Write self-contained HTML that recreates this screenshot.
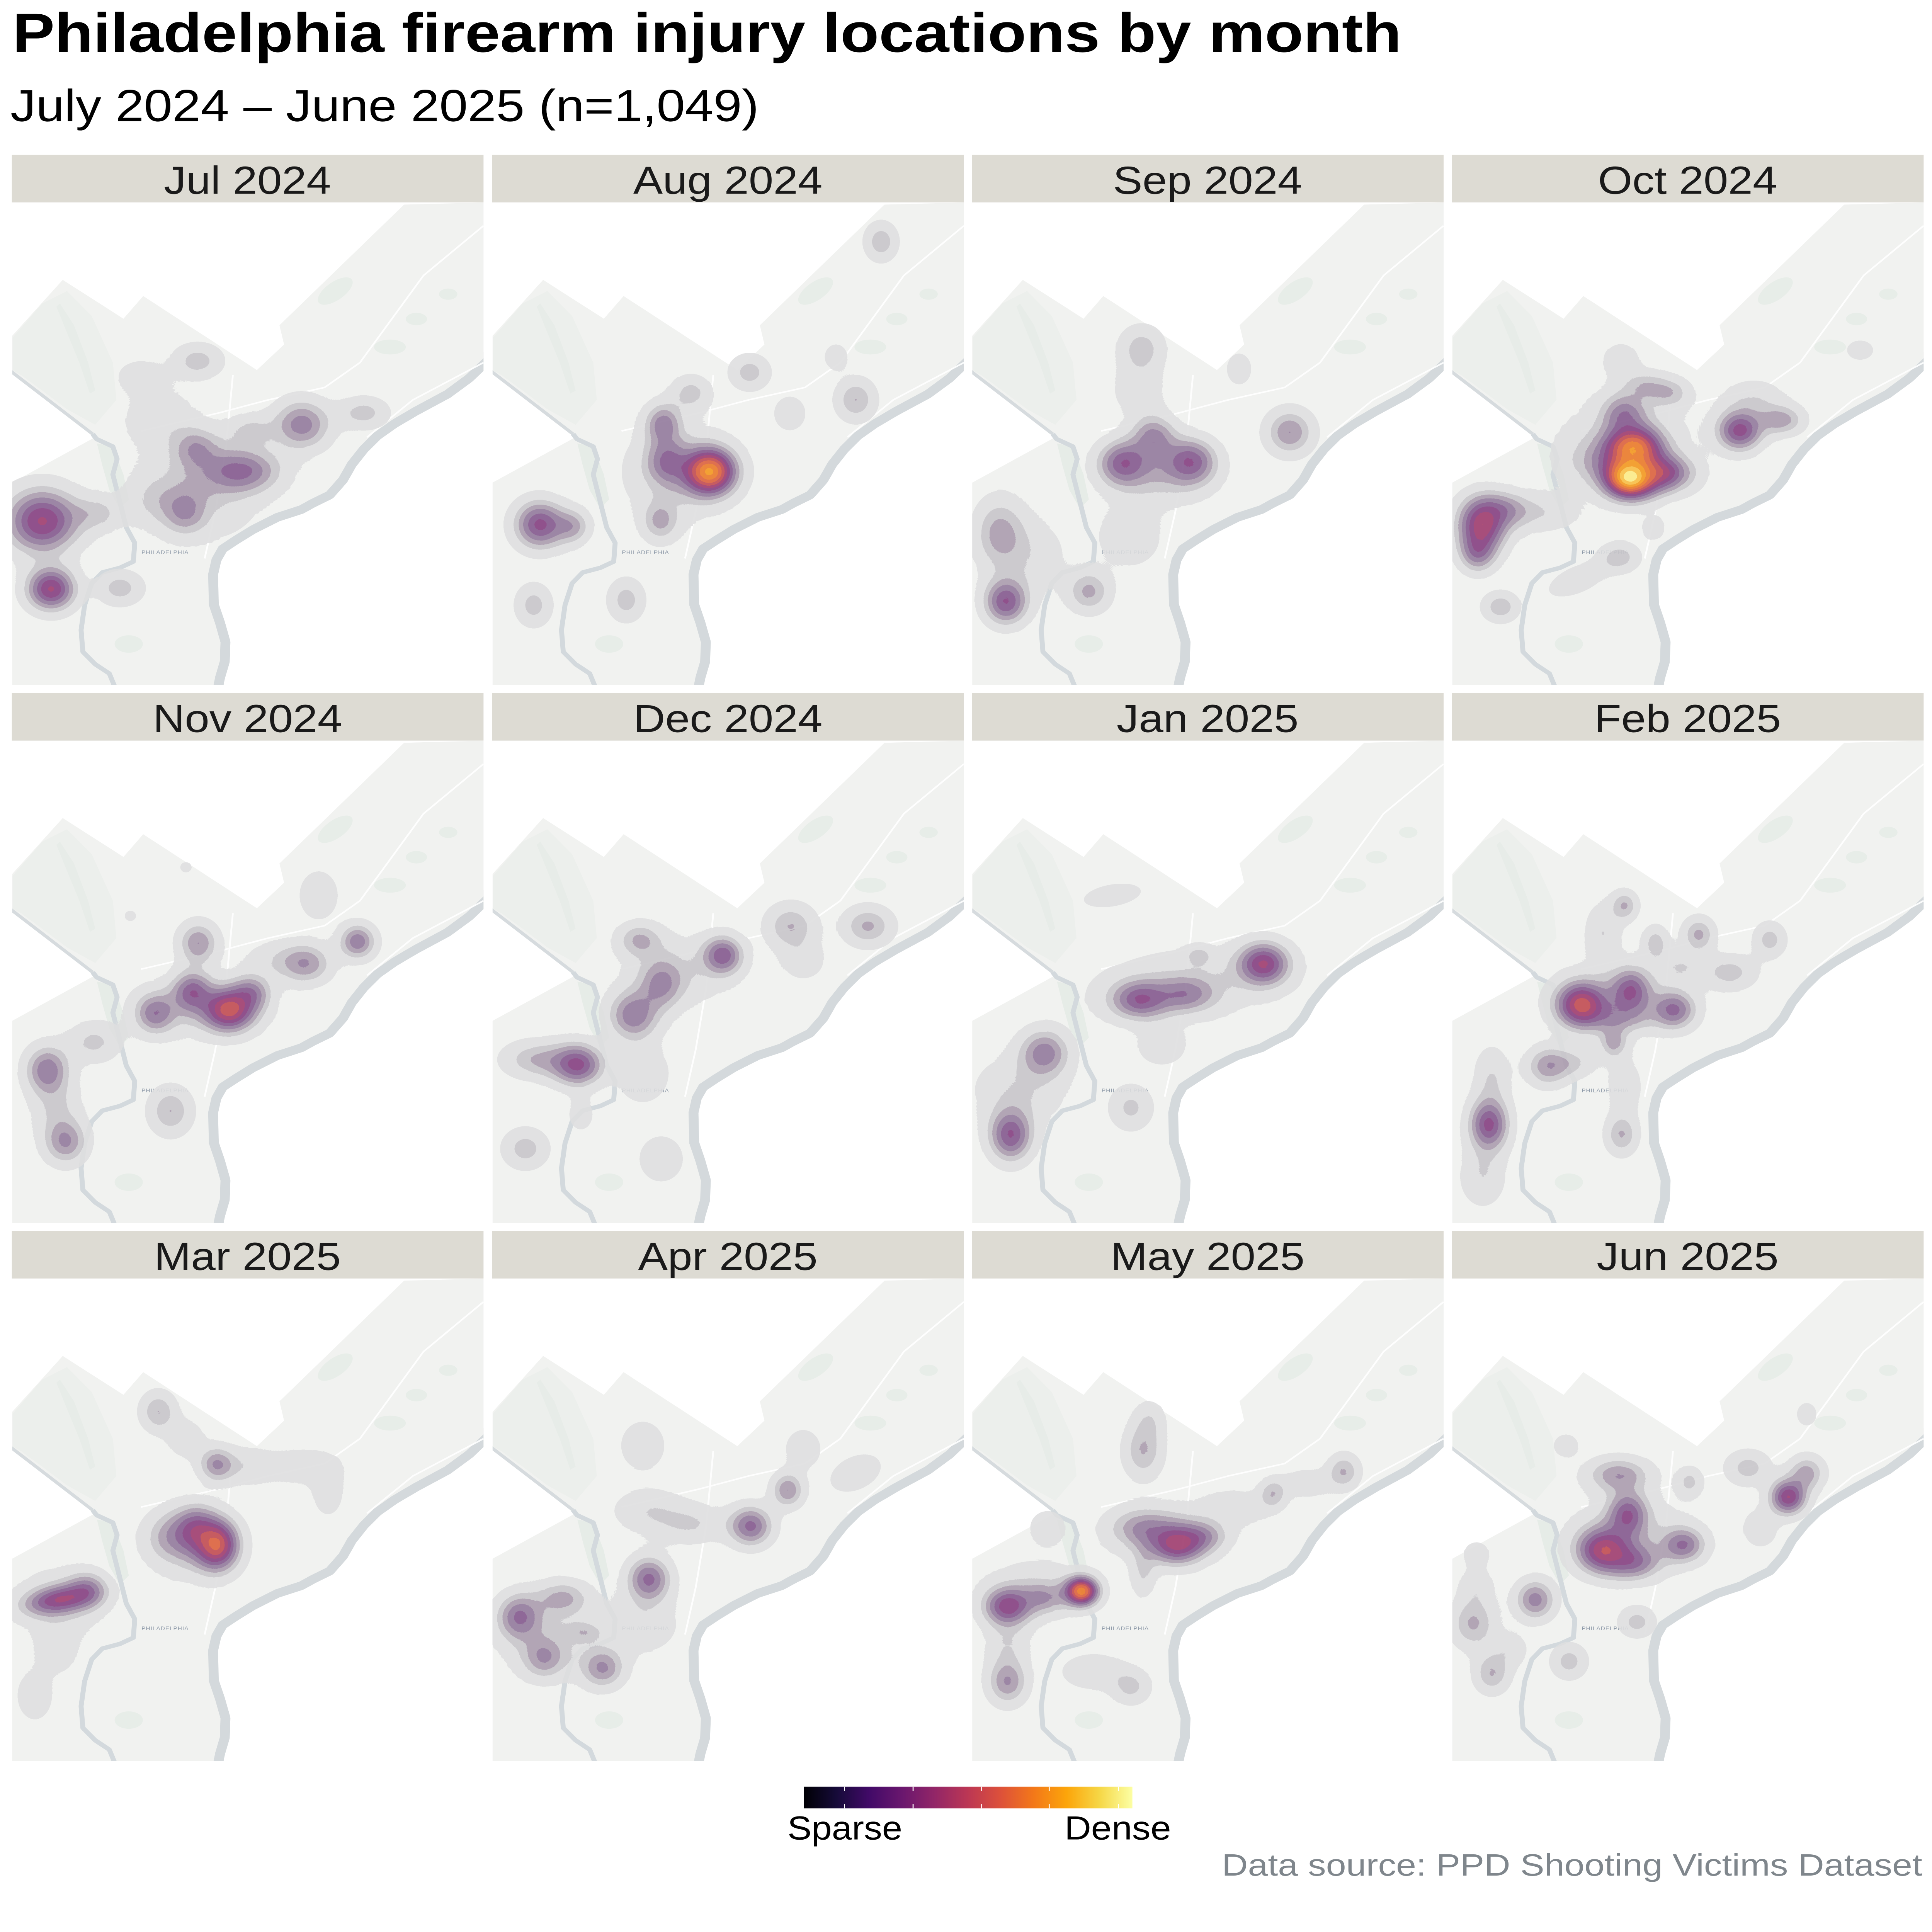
<!DOCTYPE html>
<html><head><meta charset="utf-8"><style>
html,body{margin:0;padding:0;background:#fff;width:100%;height:100%;overflow:hidden}
svg{display:block;width:100vw;height:100vh}
</style></head><body>
<svg xmlns="http://www.w3.org/2000/svg" viewBox="0 0 5550 6300" preserveAspectRatio="none">
<defs>
<radialGradient id="g">
<stop offset="0" stop-color="#000" stop-opacity="1"/>
<stop offset=".1" stop-color="#000" stop-opacity=".956"/>
<stop offset=".2" stop-color="#000" stop-opacity=".835"/>
<stop offset=".3" stop-color="#000" stop-opacity=".667"/>
<stop offset=".4" stop-color="#000" stop-opacity=".487"/>
<stop offset=".5" stop-color="#000" stop-opacity=".325"/>
<stop offset=".6" stop-color="#000" stop-opacity=".198"/>
<stop offset=".7" stop-color="#000" stop-opacity=".11"/>
<stop offset=".8" stop-color="#000" stop-opacity=".056"/>
<stop offset=".9" stop-color="#000" stop-opacity=".026"/>
<stop offset="1" stop-color="#000" stop-opacity="0"/>
</radialGradient>
<filter id="q" x="-10%" y="-10%" width="120%" height="120%" color-interpolation-filters="sRGB">
<feColorMatrix in="SourceGraphic" type="matrix" values="0 0 0 1 0  0 0 0 1 0  0 0 0 1 0  0 0 0 0 1" result="d"/>
<feComponentTransfer in="d" result="c">
<feFuncR type="discrete" tableValues="0 0 .871 .871 .871 .871 .784 .784 .784 .667 .667 .667 .573 .573 .573 .514 .514 .514 .518 .518 .518 .620 .620 .620 .761 .761 .761 .863 .863 .863 .918 .918 .918 .953 .953 .953 .973 .973 .973 .992 .992 .992"/>
<feFuncG type="discrete" tableValues="0 0 .871 .871 .871 .871 .776 .776 .776 .612 .612 .612 .478 .478 .478 .349 .349 .349 .247 .247 .247 .235 .235 .235 .306 .306 .306 .396 .396 .396 .490 .490 .490 .604 .604 .604 .753 .753 .753 .922 .922 .922"/>
<feFuncB type="discrete" tableValues="0 0 .878 .878 .878 .878 .796 .796 .796 .686 .686 .686 .612 .612 .612 .553 .553 .553 .502 .502 .502 .431 .431 .431 .333 .333 .333 .251 .251 .251 .180 .180 .180 .141 .141 .141 .290 .290 .290 .541 .541 .541"/>
</feComponentTransfer>
<feComponentTransfer in="SourceAlpha" result="a">
<feFuncA type="discrete" tableValues="0 0 .88 .88 .88 .88 .9 .9 .9 .9 .9 .9 .9 .9 .9 .9 .9 .9 .9 .9 .9 .9 .9 .9 .92 .92 .92 .92 .92 .92 .92 .92 .92 .92 .92 .92 .92 .92 .92 .92 .92 .92"/>
</feComponentTransfer>
<feComposite in="c" in2="a" operator="in"/>
</filter>
<linearGradient id="inf" x1="0" x2="1" y1="0" y2="0">
<stop offset="0" stop-color="#000004"/>
<stop offset=".1" stop-color="#160b39"/>
<stop offset=".2" stop-color="#420a68"/>
<stop offset=".3" stop-color="#6a176e"/>
<stop offset=".4" stop-color="#932667"/>
<stop offset=".5" stop-color="#bc3754"/>
<stop offset=".6" stop-color="#dd513a"/>
<stop offset=".7" stop-color="#f37819"/>
<stop offset=".8" stop-color="#fca50a"/>
<stop offset=".9" stop-color="#f6d746"/>
<stop offset="1" stop-color="#fcffa4"/>
</linearGradient>
<g id="base">
<path d="M1360,495 L1300,560 L1240,610 L1150,665 L1090,705 L1040,745 L1000,790 L965,840 L940,890 L905,935 L860,960 L828,980 L760,1005 L690,1045 L640,1080 L600,1110 L580,1150 L570,1200 L572,1300 L590,1360 L605,1420 L603,1480 L590,1530 L582,1575" fill="none" stroke="#d4d9dc" stroke-width="56" stroke-linejoin="round"/>
<path d="M10,440 L158,254 L330,379 L386,306 L708,544 L785,462 L772,400 L1125,12 L1360,5 L1360,495 L1300,560 L1240,610 L1150,665 L1090,705 L1040,745 L1000,790 L965,840 L940,890 L905,935 L860,960 L828,980 L760,1005 L690,1045 L640,1080 L600,1110 L580,1150 L570,1200 L572,1300 L590,1360 L605,1420 L603,1480 L590,1530 L582,1575 L10,1575 L10,909 L248,761 L243,750 L10,547 Z" fill="#f1f2f0"/>
<path d="M16,440 L100,330 L170,290 L240,370 L300,520 L310,640 L250,720 L170,670 L100,610 L40,560 L16,545 Z" fill="#e6ece7" opacity=".45"/>
<path d="M150,330 L190,400 L230,520 L250,610 L235,620 L205,520 L165,410 L140,340 Z" fill="#e2e9e3" opacity=".4"/>
<path d="M255,780 L300,790 L330,880 L345,960 L320,990 L290,930 L270,850 Z" fill="#e4eae5" opacity=".8"/>
<ellipse cx="930" cy="290" rx="60" ry="28" transform="rotate(-40 930 290)" fill="#e7ede8"/>
<ellipse cx="1085" cy="470" rx="45" ry="24" fill="#e7ede8"/>
<ellipse cx="1160" cy="380" rx="30" ry="20" fill="#e7ede8"/>
<ellipse cx="1250" cy="300" rx="26" ry="18" fill="#e7ede8"/>
<ellipse cx="345" cy="1425" rx="40" ry="28" fill="#e7ede8"/>
<path d="M10,547 L243,750" stroke="#d6dbde" stroke-width="10" fill="none"/>
<path d="M243,750 L254,766 L300,790 L312,830 L300,880 L318,960 L338,1050 L362,1100 L358,1160 L320,1180 L270,1195 L240,1230 L220,1300 L210,1380 L215,1450 L250,1490 L290,1520 L310,1575" stroke="#d3d9dd" stroke-width="14" fill="none" stroke-linejoin="round"/>
<g stroke="#ffffff" stroke-width="5" fill="none" opacity=".9">
<path d="M380,740 L600,682 L740,640 L900,600 L1000,520 L1180,240 L1350,80"/>
<path d="M1020,760 L1150,640 L1350,520"/>
<path d="M560,1150 L590,1000 L620,800 L640,560"/>
</g>
<text x="448" y="1136" font-family="Liberation Sans, sans-serif" font-size="17" fill="#8d99a8" text-anchor="middle" letter-spacing="1">PHILADELPHIA</text>
</g>
<clipPath id="k00"><rect x="35" y="660" width="1354" height="1573"/></clipPath>
<clipPath id="k01"><rect x="1415" y="660" width="1354" height="1573"/></clipPath>
<clipPath id="k02"><rect x="2793" y="660" width="1354" height="1573"/></clipPath>
<clipPath id="k03"><rect x="4172" y="660" width="1354" height="1573"/></clipPath>
<clipPath id="k10"><rect x="35" y="2415" width="1354" height="1573"/></clipPath>
<clipPath id="k11"><rect x="1415" y="2415" width="1354" height="1573"/></clipPath>
<clipPath id="k12"><rect x="2793" y="2415" width="1354" height="1573"/></clipPath>
<clipPath id="k13"><rect x="4172" y="2415" width="1354" height="1573"/></clipPath>
<clipPath id="k20"><rect x="35" y="4169" width="1354" height="1573"/></clipPath>
<clipPath id="k21"><rect x="1415" y="4169" width="1354" height="1573"/></clipPath>
<clipPath id="k22"><rect x="2793" y="4169" width="1354" height="1573"/></clipPath>
<clipPath id="k23"><rect x="4172" y="4169" width="1354" height="1573"/></clipPath>
</defs>

<rect width="5550" height="6300" fill="#fff"/>

<text x="36" y="169" font-family="Liberation Sans, sans-serif" font-weight="bold" font-size="180" fill="#000" textLength="3990" lengthAdjust="spacingAndGlyphs">Philadelphia firearm injury locations by month</text>
<text x="30" y="395" font-family="Liberation Sans, sans-serif" font-size="147" fill="#000" textLength="2150" lengthAdjust="spacingAndGlyphs">July 2024 – June 2025 (n=1,049)</text>

<g fill="#dddbd3">
<rect x="34" y="505" width="1355" height="155"/><rect x="1414" y="505" width="1355" height="155"/><rect x="2792" y="505" width="1355" height="155"/><rect x="4171" y="505" width="1355" height="155"/>
<rect x="34" y="2260" width="1355" height="155"/><rect x="1414" y="2260" width="1355" height="155"/><rect x="2792" y="2260" width="1355" height="155"/><rect x="4171" y="2260" width="1355" height="155"/>
<rect x="34" y="4014" width="1355" height="155"/><rect x="1414" y="4014" width="1355" height="155"/><rect x="2792" y="4014" width="1355" height="155"/><rect x="4171" y="4014" width="1355" height="155"/>
</g>
<g font-family="Liberation Sans, sans-serif" font-size="127" fill="#1a1a1a" text-anchor="middle">
<text x="711" y="632">Jul 2024</text><text x="2091" y="632">Aug 2024</text><text x="3469" y="632">Sep 2024</text><text x="4848" y="632">Oct 2024</text>
<text x="711" y="2387">Nov 2024</text><text x="2091" y="2387">Dec 2024</text><text x="3469" y="2387">Jan 2025</text><text x="4848" y="2387">Feb 2025</text>
<text x="711" y="4141">Mar 2025</text><text x="2091" y="4141">Apr 2025</text><text x="3469" y="4141">May 2025</text><text x="4848" y="4141">Jun 2025</text>
</g>

<!-- Jul 2024 -->
<g clip-path="url(#k00)">
<use href="#base" transform="translate(20,655) scale(1.01403)"/>
<g filter="url(#q)"><g transform="matrix(1.01403 0 0 1.01403 20 655)" fill="url(#g)">
<ellipse cx="100" cy="1030" rx="210" ry="210" fill-opacity=".514"/>
<ellipse cx="255" cy="1005" rx="150" ry="120" fill-opacity=".157"/>
<ellipse cx="125" cy="1248" rx="141" ry="141" fill-opacity=".514"/>
<ellipse cx="320" cy="1245" rx="135" ry="114" fill-opacity=".186"/>
<ellipse cx="665" cy="868" rx="225" ry="144" fill-opacity=".34"/>
<ellipse cx="535" cy="795" rx="135" ry="135" fill-opacity=".22"/>
<ellipse cx="505" cy="1000" rx="126" ry="150" fill-opacity=".22"/>
<ellipse cx="835" cy="720" rx="165" ry="165" fill-opacity=".329"/>
<ellipse cx="1010" cy="682" rx="144" ry="105" fill-opacity=".179"/>
<ellipse cx="540" cy="515" rx="144" ry="114" fill-opacity=".186"/>
<ellipse cx="380" cy="565" rx="135" ry="105" fill-opacity=".121"/>
<ellipse cx="690" cy="740" rx="135" ry="105" fill-opacity=".157"/>
<ellipse cx="560" cy="920" rx="330" ry="330" fill-opacity=".157"/>
<ellipse cx="430" cy="700" rx="210" ry="210" fill-opacity=".114"/>
<ellipse cx="420" cy="960" rx="180" ry="180" fill-opacity=".121"/>
</g></g>
</g>

<!-- Aug 2024 -->
<g clip-path="url(#k01)">
<use href="#base" transform="translate(1400,655) scale(1.01403)"/>
<g filter="url(#q)"><g transform="matrix(1.77296 0 0 1.11607 1400 500)" fill="url(#g)">
<ellipse cx="360" cy="930" rx="84" ry="135" fill-opacity=".786"/>
<ellipse cx="290" cy="900" rx="66" ry="135" fill-opacity=".28"/>
<ellipse cx="285" cy="790" rx="60" ry="120" fill-opacity=".30"/>
<ellipse cx="330" cy="700" rx="66" ry="105" fill-opacity=".171"/>
<ellipse cx="425" cy="640" rx="66" ry="105" fill-opacity=".186"/>
<ellipse cx="280" cy="1075" rx="60" ry="120" fill-opacity=".214"/>
<ellipse cx="310" cy="930" rx="175" ry="290" fill-opacity=".17"/>
<ellipse cx="85" cy="1085" rx="84" ry="144" fill-opacity=".45"/>
<ellipse cx="138" cy="1090" rx="60" ry="105" fill-opacity=".229"/>
<ellipse cx="75" cy="1320" rx="60" ry="126" fill-opacity=".179"/>
<ellipse cx="225" cy="1305" rx="60" ry="126" fill-opacity=".186"/>
<ellipse cx="490" cy="760" rx="54" ry="105" fill-opacity=".129"/>
<ellipse cx="565" cy="595" rx="42" ry="84" fill-opacity=".114"/>
<ellipse cx="597" cy="720" rx="66" ry="126" fill-opacity=".214"/>
<ellipse cx="638" cy="258" rx="54" ry="114" fill-opacity=".2"/>
</g></g>
</g>

<!-- Sep 2024 -->
<g clip-path="url(#k02)">
<use href="#base" transform="translate(2778,655) scale(1.01403)"/>
<g filter="url(#q)"><g transform="matrix(1.77296 0 0 1.11607 1400 500)" fill="url(#g)">
<ellipse cx="1030" cy="905" rx="84" ry="135" fill-opacity=".379"/>
<ellipse cx="1140" cy="900" rx="84" ry="135" fill-opacity=".379"/>
<ellipse cx="1080" cy="830" rx="75" ry="135" fill-opacity=".3"/>
<ellipse cx="1090" cy="940" rx="165" ry="180" fill-opacity=".179"/>
<ellipse cx="1060" cy="570" rx="75" ry="135" fill-opacity=".186"/>
<ellipse cx="1055" cy="690" rx="84" ry="165" fill-opacity=".121"/>
<ellipse cx="1040" cy="1120" rx="105" ry="180" fill-opacity=".129"/>
<ellipse cx="1300" cy="815" rx="78" ry="135" fill-opacity=".286"/>
<ellipse cx="1218" cy="630" rx="42" ry="96" fill-opacity=".129"/>
<ellipse cx="830" cy="1110" rx="84" ry="210" fill-opacity=".236"/>
<ellipse cx="840" cy="1310" rx="72" ry="135" fill-opacity=".429"/>
<ellipse cx="975" cy="1280" rx="72" ry="126" fill-opacity=".236"/>
<ellipse cx="880" cy="1180" rx="120" ry="240" fill-opacity=".114"/>
</g></g>
</g>

<!-- Oct 2024 -->
<g clip-path="url(#k03)">
<use href="#base" transform="translate(4157,655) scale(1.01403)"/>
<g filter="url(#q)"><g transform="matrix(0.88648 0 0 1.11607 4160 500)" fill="url(#g)">
<ellipse cx="590" cy="945" rx="170" ry="125" fill-opacity=".971"/>
<ellipse cx="600" cy="860" rx="185" ry="125" fill-opacity=".714"/>
<ellipse cx="700" cy="935" rx="190" ry="110" fill-opacity=".429"/>
<ellipse cx="470" cy="900" rx="210" ry="150" fill-opacity=".143"/>
<ellipse cx="570" cy="760" rx="150" ry="120" fill-opacity=".286"/>
<ellipse cx="640" cy="680" rx="150" ry="90" fill-opacity=".171"/>
<ellipse cx="720" cy="700" rx="135" ry="90" fill-opacity=".171"/>
<ellipse cx="560" cy="605" rx="120" ry="105" fill-opacity=".121"/>
<ellipse cx="580" cy="850" rx="450" ry="300" fill-opacity=".129"/>
<ellipse cx="945" cy="810" rx="150" ry="120" fill-opacity=".464"/>
<ellipse cx="1080" cy="780" rx="150" ry="90" fill-opacity=".25"/>
<ellipse cx="990" cy="720" rx="210" ry="120" fill-opacity=".129"/>
<ellipse cx="290" cy="1050" rx="270" ry="120" fill-opacity=".129"/>
<ellipse cx="110" cy="1085" rx="165" ry="165" fill-opacity=".521"/>
<ellipse cx="95" cy="1165" rx="120" ry="120" fill-opacity=".307"/>
<ellipse cx="175" cy="1040" rx="180" ry="105" fill-opacity=".214"/>
<ellipse cx="555" cy="1180" rx="135" ry="90" fill-opacity=".186"/>
<ellipse cx="420" cy="1245" rx="210" ry="84" fill-opacity=".129" transform="rotate(-20 420 1245)"/>
<ellipse cx="170" cy="1325" rx="120" ry="90" fill-opacity=".2"/>
<ellipse cx="665" cy="1095" rx="75" ry="75" fill-opacity=".121"/>
<ellipse cx="1335" cy="575" rx="90" ry="60" fill-opacity=".129"/>
</g></g>
</g>

<!-- Nov 2024 -->
<g clip-path="url(#k10)">
<use href="#base" transform="translate(20,2410) scale(1.01403)"/>
<g filter="url(#q)"><g transform="matrix(1.77296 0 0 1.11607 20 2250)" fill="url(#g)">
<ellipse cx="360" cy="935" rx="84" ry="126" fill-opacity=".571"/>
<ellipse cx="300" cy="880" rx="66" ry="120" fill-opacity=".357"/>
<ellipse cx="240" cy="945" rx="66" ry="120" fill-opacity=".307"/>
<ellipse cx="395" cy="885" rx="66" ry="105" fill-opacity=".286"/>
<ellipse cx="310" cy="740" rx="66" ry="126" fill-opacity=".286"/>
<ellipse cx="485" cy="800" rx="84" ry="120" fill-opacity=".25"/>
<ellipse cx="568" cy="735" rx="60" ry="105" fill-opacity=".343"/>
<ellipse cx="505" cy="600" rx="66" ry="150" fill-opacity=".129"/>
<ellipse cx="310" cy="930" rx="210" ry="180" fill-opacity=".143"/>
<ellipse cx="65" cy="1110" rx="72" ry="144" fill-opacity=".343"/>
<ellipse cx="95" cy="1320" rx="72" ry="135" fill-opacity=".286"/>
<ellipse cx="140" cy="1030" rx="90" ry="120" fill-opacity=".164"/>
<ellipse cx="80" cy="1220" rx="84" ry="180" fill-opacity=".143"/>
<ellipse cx="265" cy="1230" rx="72" ry="144" fill-opacity=".214"/>
<ellipse cx="290" cy="518" rx="24" ry="39" fill-opacity=".093"/>
<ellipse cx="200" cy="660" rx="24" ry="39" fill-opacity=".093"/>
<ellipse cx="440" cy="790" rx="120" ry="120" fill-opacity=".114"/>
</g></g>
</g>

<!-- Dec 2024 -->
<g clip-path="url(#k11)">
<use href="#base" transform="translate(1400,2410) scale(1.01403)"/>
<g filter="url(#q)"><g transform="matrix(1.77296 0 0 1.11607 20 2250)" fill="url(#g)">
<ellipse cx="925" cy="1095" rx="84" ry="126" fill-opacity=".443"/>
<ellipse cx="860" cy="1080" rx="114" ry="114" fill-opacity=".214"/>
<ellipse cx="1015" cy="950" rx="84" ry="150" fill-opacity=".343"/>
<ellipse cx="1060" cy="860" rx="72" ry="150" fill-opacity=".25"/>
<ellipse cx="1160" cy="775" rx="66" ry="114" fill-opacity=".393"/>
<ellipse cx="1025" cy="730" rx="75" ry="105" fill-opacity=".214"/>
<ellipse cx="1270" cy="690" rx="84" ry="135" fill-opacity=".214"/>
<ellipse cx="1395" cy="690" rx="84" ry="120" fill-opacity=".229"/>
<ellipse cx="1030" cy="1120" rx="90" ry="180" fill-opacity=".129"/>
<ellipse cx="930" cy="1240" rx="45" ry="105" fill-opacity=".107"/>
<ellipse cx="840" cy="1340" rx="75" ry="120" fill-opacity=".186"/>
<ellipse cx="1060" cy="1370" rx="72" ry="135" fill-opacity=".143"/>
<ellipse cx="1290" cy="790" rx="75" ry="120" fill-opacity=".114"/>
<ellipse cx="1090" cy="820" rx="180" ry="210" fill-opacity=".129"/>
</g></g>
</g>

<!-- Jan 2025 -->
<g clip-path="url(#k12)">
<use href="#base" transform="translate(2778,2410) scale(1.01403)"/>
<g filter="url(#q)"><g transform="matrix(1.77296 0 0 1.11607 2770 2250)" fill="url(#g)">
<ellipse cx="485" cy="800" rx="84" ry="126" fill-opacity=".486"/>
<ellipse cx="285" cy="905" rx="96" ry="114" fill-opacity=".379"/>
<ellipse cx="360" cy="890" rx="96" ry="105" fill-opacity=".25"/>
<ellipse cx="380" cy="775" rx="42" ry="54" fill-opacity=".143"/>
<ellipse cx="360" cy="860" rx="330" ry="210" fill-opacity=".143" transform="rotate(-15 360 860)"/>
<ellipse cx="240" cy="600" rx="105" ry="66" fill-opacity=".129" transform="rotate(-25 240 600)"/>
<ellipse cx="130" cy="1060" rx="84" ry="144" fill-opacity=".321"/>
<ellipse cx="75" cy="1300" rx="72" ry="156" fill-opacity=".429"/>
<ellipse cx="90" cy="1170" rx="150" ry="210" fill-opacity=".143"/>
<ellipse cx="270" cy="1220" rx="72" ry="135" fill-opacity=".164"/>
<ellipse cx="320" cy="1040" rx="84" ry="120" fill-opacity=".121"/>
</g></g>
</g>

<!-- Feb 2025 -->
<g clip-path="url(#k13)">
<use href="#base" transform="translate(4157,2410) scale(1.01403)"/>
<g filter="url(#q)"><g transform="matrix(1.77296 0 0 1.11607 2770 2250)" fill="url(#g)">
<ellipse cx="1000" cy="920" rx="84" ry="135" fill-opacity=".586"/>
<ellipse cx="1080" cy="880" rx="66" ry="135" fill-opacity=".379"/>
<ellipse cx="1150" cy="935" rx="72" ry="114" fill-opacity=".357"/>
<ellipse cx="1060" cy="960" rx="105" ry="90" fill-opacity=".179"/>
<ellipse cx="1052" cy="1030" rx="45" ry="90" fill-opacity=".236"/>
<ellipse cx="1070" cy="630" rx="45" ry="90" fill-opacity=".214"/>
<ellipse cx="1035" cy="710" rx="60" ry="180" fill-opacity=".143"/>
<ellipse cx="1120" cy="740" rx="45" ry="105" fill-opacity=".186"/>
<ellipse cx="1190" cy="715" rx="54" ry="105" fill-opacity=".236"/>
<ellipse cx="1240" cy="825" rx="90" ry="105" fill-opacity=".179"/>
<ellipse cx="1305" cy="730" rx="54" ry="105" fill-opacity=".179"/>
<ellipse cx="1160" cy="810" rx="75" ry="90" fill-opacity=".129"/>
<ellipse cx="945" cy="1100" rx="72" ry="120" fill-opacity=".25"/>
<ellipse cx="985" cy="1090" rx="84" ry="90" fill-opacity=".143"/>
<ellipse cx="850" cy="1270" rx="66" ry="156" fill-opacity=".45"/>
<ellipse cx="840" cy="1420" rx="75" ry="180" fill-opacity=".143"/>
<ellipse cx="855" cy="1130" rx="60" ry="180" fill-opacity=".143"/>
<ellipse cx="1065" cy="1300" rx="54" ry="120" fill-opacity=".214"/>
<ellipse cx="1070" cy="1160" rx="60" ry="180" fill-opacity=".114"/>
<ellipse cx="1060" cy="900" rx="210" ry="210" fill-opacity=".129"/>
</g></g>
</g>

<!-- Mar 2025 -->
<g clip-path="url(#k20)">
<use href="#base" transform="translate(20,4164) scale(1.01403)"/>
<g filter="url(#q)"><g transform="matrix(1.77296 0 0 1.11607 20 4000)" fill="url(#g)">
<ellipse cx="340" cy="930" rx="72" ry="150" fill-opacity=".607"/>
<ellipse cx="305" cy="880" rx="72" ry="135" fill-opacity=".321"/>
<ellipse cx="300" cy="930" rx="135" ry="210" fill-opacity=".157"/>
<ellipse cx="265" cy="905" rx="90" ry="150" fill-opacity=".18"/>
<ellipse cx="340" cy="695" rx="60" ry="105" fill-opacity=".286"/>
<ellipse cx="245" cy="540" rx="60" ry="120" fill-opacity=".214"/>
<ellipse cx="290" cy="620" rx="66" ry="120" fill-opacity=".114"/>
<ellipse cx="480" cy="700" rx="120" ry="105" fill-opacity=".129"/>
<ellipse cx="520" cy="775" rx="54" ry="150" fill-opacity=".114"/>
<ellipse cx="390" cy="700" rx="90" ry="120" fill-opacity=".114"/>
<ellipse cx="85" cy="1090" rx="120" ry="80" fill-opacity=".429" transform="rotate(-25 85 1090)"/>
<ellipse cx="130" cy="1060" rx="66" ry="105" fill-opacity=".25"/>
<ellipse cx="85" cy="1100" rx="150" ry="210" fill-opacity=".143"/>
<ellipse cx="80" cy="1240" rx="66" ry="135" fill-opacity=".121"/>
<ellipse cx="45" cy="1370" rx="60" ry="150" fill-opacity=".129"/>
</g></g>
</g>

<!-- Apr 2025 -->
<g clip-path="url(#k21)">
<use href="#base" transform="translate(1400,4164) scale(1.01403)"/>
<g filter="url(#q)"><g transform="matrix(1.77296 0 0 1.11607 20 4000)" fill="url(#g)">
<ellipse cx="1040" cy="1030" rx="72" ry="135" fill-opacity=".379"/>
<ellipse cx="1205" cy="875" rx="72" ry="120" fill-opacity=".379"/>
<ellipse cx="1265" cy="770" rx="54" ry="105" fill-opacity=".286"/>
<ellipse cx="1110" cy="870" rx="120" ry="120" fill-opacity=".143"/>
<ellipse cx="1040" cy="830" rx="120" ry="135" fill-opacity=".129"/>
<ellipse cx="1290" cy="650" rx="60" ry="120" fill-opacity=".129"/>
<ellipse cx="1375" cy="720" rx="75" ry="120" fill-opacity=".136" transform="rotate(25 1375 720)"/>
<ellipse cx="1030" cy="640" rx="75" ry="150" fill-opacity=".129"/>
<ellipse cx="830" cy="1140" rx="72" ry="135" fill-opacity=".343"/>
<ellipse cx="900" cy="1085" rx="90" ry="105" fill-opacity=".214"/>
<ellipse cx="870" cy="1260" rx="72" ry="120" fill-opacity=".236"/>
<ellipse cx="965" cy="1290" rx="72" ry="120" fill-opacity=".286"/>
<ellipse cx="935" cy="1185" rx="60" ry="60" fill-opacity=".143"/>
<ellipse cx="1030" cy="1160" rx="120" ry="180" fill-opacity=".121"/>
<ellipse cx="880" cy="1200" rx="180" ry="240" fill-opacity=".129"/>
</g></g>
</g>

<!-- May 2025 -->
<g clip-path="url(#k22)">
<use href="#base" transform="translate(2778,4164) scale(1.01403)"/>
<g filter="url(#q)"><g transform="matrix(1.77296 0 0 1.11607 2770 4000)" fill="url(#g)">
<ellipse cx="190" cy="1065" rx="54" ry="84" fill-opacity=".75"/>
<ellipse cx="70" cy="1110" rx="78" ry="114" fill-opacity=".45"/>
<ellipse cx="130" cy="1085" rx="75" ry="90" fill-opacity=".2"/>
<ellipse cx="345" cy="930" rx="90" ry="114" fill-opacity=".45"/>
<ellipse cx="290" cy="880" rx="114" ry="120" fill-opacity=".236"/>
<ellipse cx="385" cy="905" rx="84" ry="90" fill-opacity=".214"/>
<ellipse cx="290" cy="655" rx="66" ry="165" fill-opacity=".214"/>
<ellipse cx="300" cy="565" rx="54" ry="120" fill-opacity=".114"/>
<ellipse cx="290" cy="1010" rx="42" ry="150" fill-opacity=".143"/>
<ellipse cx="500" cy="780" rx="45" ry="90" fill-opacity=".193"/>
<ellipse cx="615" cy="715" rx="54" ry="105" fill-opacity=".214"/>
<ellipse cx="440" cy="820" rx="120" ry="105" fill-opacity=".121"/>
<ellipse cx="555" cy="750" rx="90" ry="90" fill-opacity=".114"/>
<ellipse cx="135" cy="880" rx="60" ry="105" fill-opacity=".129"/>
<ellipse cx="70" cy="1330" rx="66" ry="135" fill-opacity=".286"/>
<ellipse cx="70" cy="1220" rx="75" ry="150" fill-opacity=".129"/>
<ellipse cx="210" cy="1300" rx="105" ry="105" fill-opacity=".143"/>
<ellipse cx="270" cy="1345" rx="66" ry="105" fill-opacity=".164"/>
<ellipse cx="120" cy="1060" rx="180" ry="180" fill-opacity=".129"/>
<ellipse cx="330" cy="900" rx="180" ry="180" fill-opacity=".129"/>
</g></g>
</g>

<!-- Jun 2025 -->
<g clip-path="url(#k23)">
<use href="#base" transform="translate(4157,4164) scale(1.01403)"/>
<g filter="url(#q)"><g transform="matrix(1.77296 0 0 1.11607 2770 4000)" fill="url(#g)">
<ellipse cx="1035" cy="945" rx="90" ry="135" fill-opacity=".514"/>
<ellipse cx="1075" cy="840" rx="66" ry="135" fill-opacity=".379"/>
<ellipse cx="1165" cy="930" rx="72" ry="105" fill-opacity=".343"/>
<ellipse cx="1085" cy="980" rx="90" ry="105" fill-opacity=".307"/>
<ellipse cx="1060" cy="725" rx="105" ry="105" fill-opacity=".271"/>
<ellipse cx="1175" cy="745" rx="45" ry="90" fill-opacity=".164"/>
<ellipse cx="1335" cy="790" rx="60" ry="105" fill-opacity=".5"/>
<ellipse cx="1365" cy="720" rx="60" ry="105" fill-opacity=".25"/>
<ellipse cx="1270" cy="705" rx="75" ry="105" fill-opacity=".179"/>
<ellipse cx="1290" cy="880" rx="60" ry="120" fill-opacity=".121"/>
<ellipse cx="925" cy="1090" rx="66" ry="120" fill-opacity=".321"/>
<ellipse cx="825" cy="1160" rx="75" ry="150" fill-opacity=".229"/>
<ellipse cx="830" cy="1050" rx="60" ry="120" fill-opacity=".114"/>
<ellipse cx="855" cy="1305" rx="60" ry="120" fill-opacity=".214"/>
<ellipse cx="885" cy="1235" rx="60" ry="105" fill-opacity=".114"/>
<ellipse cx="980" cy="1270" rx="60" ry="105" fill-opacity=".179"/>
<ellipse cx="1090" cy="1155" rx="60" ry="90" fill-opacity=".179"/>
<ellipse cx="830" cy="955" rx="45" ry="75" fill-opacity=".114"/>
<ellipse cx="975" cy="640" rx="45" ry="75" fill-opacity=".114"/>
<ellipse cx="1365" cy="548" rx="36" ry="75" fill-opacity=".114"/>
<ellipse cx="1080" cy="900" rx="195" ry="240" fill-opacity=".143"/>
</g></g>
</g>

<!-- Legend -->
<rect x="2309" y="5826" width="944" height="71" fill="url(#inf)"/>
<g stroke="#fff" stroke-width="3">
<line x1="2426" y1="5826" x2="2426" y2="5840"/><line x1="2426" y1="5883" x2="2426" y2="5897"/>
<line x1="2623" y1="5826" x2="2623" y2="5840"/><line x1="2623" y1="5883" x2="2623" y2="5897"/>
<line x1="2820" y1="5826" x2="2820" y2="5840"/><line x1="2820" y1="5883" x2="2820" y2="5897"/>
<line x1="3014" y1="5826" x2="3014" y2="5840"/><line x1="3014" y1="5883" x2="3014" y2="5897"/>
<line x1="3213" y1="5826" x2="3213" y2="5840"/><line x1="3213" y1="5883" x2="3213" y2="5897"/>
</g>
<text x="2262" y="5998" font-family="Liberation Sans, sans-serif" font-size="109" fill="#000" textLength="330" lengthAdjust="spacingAndGlyphs">Sparse</text>
<text x="3058" y="5998" font-family="Liberation Sans, sans-serif" font-size="109" fill="#000" textLength="306" lengthAdjust="spacingAndGlyphs">Dense</text>
<text x="3510" y="6116" font-family="Liberation Sans, sans-serif" font-size="101" fill="#7f868c" textLength="2012" lengthAdjust="spacingAndGlyphs">Data source: PPD Shooting Victims Dataset</text>
</svg>
</body></html>
